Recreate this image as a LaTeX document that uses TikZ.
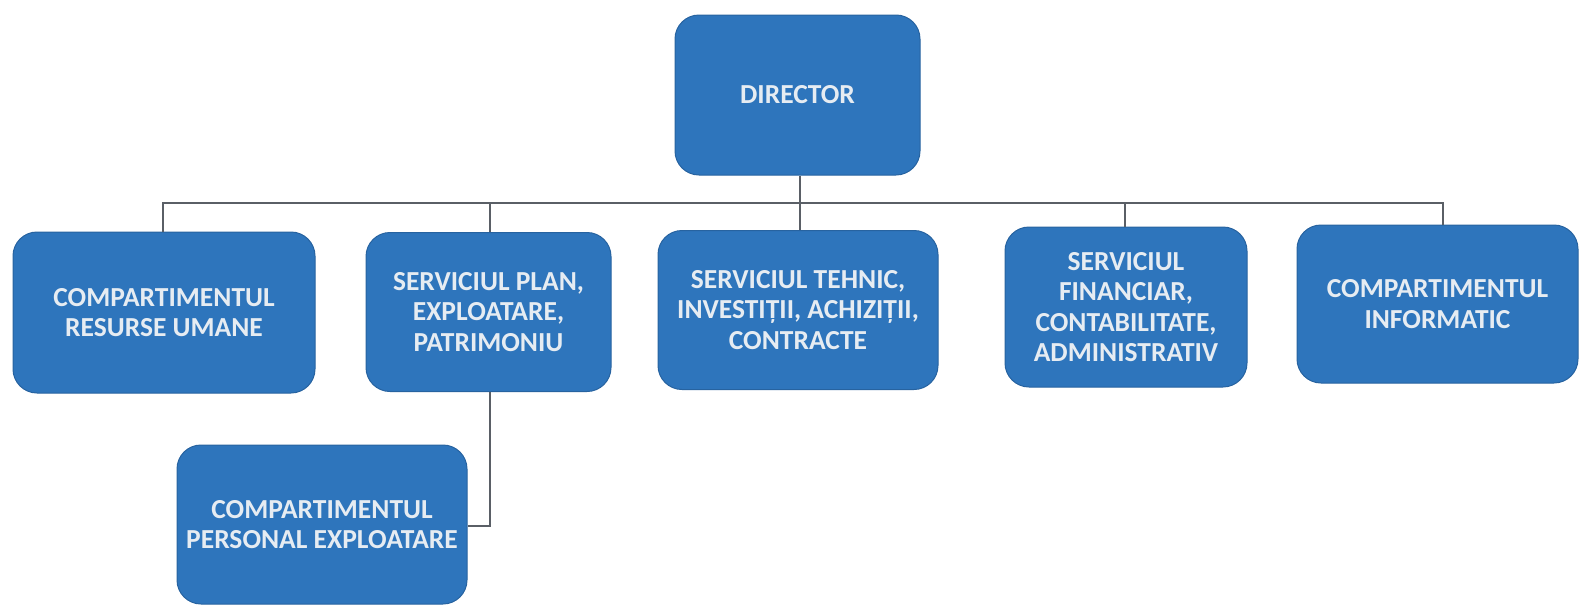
\documentclass[tikz,border=0pt]{standalone}
\usepackage{fontspec}
\setmainfont{Carlito}
\definecolor{boxblue}{HTML}{2E75BC}
\definecolor{linegray}{HTML}{5A5F66}
\definecolor{textwhite}{HTML}{E6ECF2}
\begin{document}
\begin{tikzpicture}[x=1pt,y=-1pt,
  unit/.style={draw=boxblue!85!black, line width=1pt, fill=boxblue, rounded corners=24pt,
    text=textwhite, align=center, font=\bfseries\fontsize{27.5}{30.5}\selectfont, inner sep=0pt},
  conn/.style={draw=linegray, line width=2pt}]
\useasboundingbox (0,0) rectangle (1580,605);
\node[unit, minimum width=245pt, minimum height=160pt] (dir) at (797.5,95) {DIRECTOR};
\node[unit, minimum width=302pt, minimum height=161pt] (b1) at (164,312.5) {COMPARTIMENTUL\\RESURSE UMANE};
\node[unit, minimum width=245pt, minimum height=159pt] (b2) at (488.5,312) {SERVICIUL PLAN,\\EXPLOATARE,\\PATRIMONIU};
\node[unit, minimum width=280pt, minimum height=159pt] (b3) at (798,310) {SERVICIUL TEHNIC,\\INVESTIȚII, ACHIZIȚII,\\CONTRACTE};
\node[unit, minimum width=242pt, minimum height=160pt] (b4) at (1126,307) {SERVICIUL\\FINANCIAR,\\CONTABILITATE,\\ADMINISTRATIV};
\node[unit, minimum width=281pt, minimum height=158pt] (b5) at (1437.5,304) {COMPARTIMENTUL\\INFORMATIC};
\node[unit, minimum width=290pt, minimum height=159pt] (b6) at (322,524.5) {COMPARTIMENTUL\\PERSONAL EXPLOATARE};
\coordinate (busL) at (163,203);
\coordinate (busR) at (1443,203);
\coordinate (corner) at (490,526);
\draw[conn] (dir.south -| 800,0) -- (800,203);
\draw[conn] (b1.north -| busL) -- (busL) -- (busR) -- (b5.north -| busR);
\draw[conn] (b2.north -| corner) -- (corner |- busL);
\draw[conn] (b3.north -| 800,0) -- (800,203);
\draw[conn] (b4.north -| 1125,0) -- (1125,203);
\draw[conn] (b2.south -| corner) -- (corner) -- (corner -| b6.east);
\end{tikzpicture}
\end{document}
